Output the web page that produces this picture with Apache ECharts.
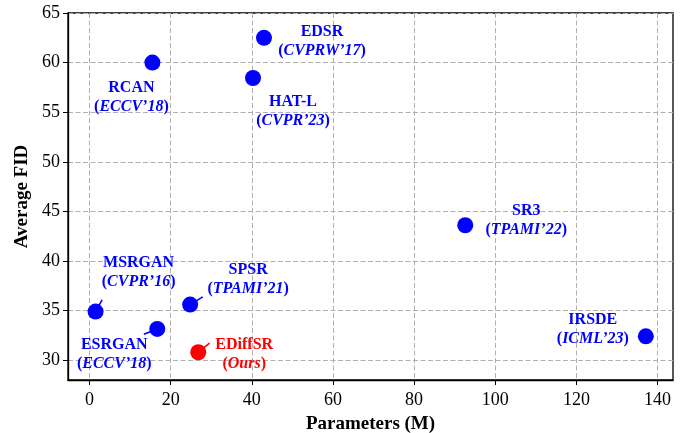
<!DOCTYPE html>
<html>
<head>
<meta charset="utf-8">
<script src="https://cdn.jsdelivr.net/npm/echarts@6/dist/echarts.min.js"></script>
<style>html,body{margin:0;padding:0;background:#fff}#c{width:699px;height:433px}</style>
</head>
<body>
<div id="c"></div>
<script>
const names  = ['RCAN', 'EDSR', 'HAT-L', 'MSRGAN', 'SPSR', 'ESRGAN', 'EDiffSR', 'SR3', 'IRSDE'];
const venues = ['ECCV\u201918', 'CVPRW\u201917', 'CVPR\u201923', 'CVPR\u201916', 'TPAMI\u201921', 'ECCV\u201918', 'Ours', 'TPAMI\u201922', 'ICML\u201923'];
const params = [15.5, 43.0, 40.3, 1.5, 24.8, 16.7, 26.8, 92.6, 137.1];
const fid    = [60.0, 62.5, 58.45, 34.9, 35.6, 33.15, 30.8, 43.6, 32.4];
const xTicks = [0, 20, 40, 60, 80, 100, 120, 140];
const yTicks = [30, 35, 40, 45, 50, 55, 60, 65];

// styling (label offsets and connector ends in pixels)
const labelOffset = {
  'RCAN': [-21, 35], 'EDSR': [58, 4], 'HAT-L': [40, 33], 'MSRGAN': [43, -39],
  'SPSR': [58, -25], 'ESRGAN': [-43, 25], 'EDiffSR': [46, 2], 'SR3': [61, -5], 'IRSDE': [-53, -7]
};
const connector = {
  'MSRGAN': [6.5, -11.7], 'ESRGAN': [-13.4, 5.3], 'SPSR': [12.6, -7.7], 'EDiffSR': [11.3, -9]
};
const ours = 'EDiffSR';
const FONT = "'Liberation Serif', 'Times New Roman', serif";

const colorOf = n => n === ours ? '#ff0000' : '#0000ff';

const scatterData = names.map((n, i) => ({
  name: n,
  value: [params[i], fid[i]],
  itemStyle: { color: colorOf(n), opacity: 1 },
  label: {
    show: true,
    position: 'inside',
    color: colorOf(n),
    formatter: '{n|' + n + '}\n{p|(}{i|' + venues[i] + '}{p|)}',
    rich: {
      n: { fontFamily: FONT, fontWeight: 'bold', fontSize: 16, lineHeight: 19, color: colorOf(n) },
      p: { fontFamily: FONT, fontWeight: 'bold', fontSize: 16, lineHeight: 19, color: colorOf(n) },
      i: { fontFamily: FONT, fontWeight: 'bold', fontStyle: 'italic', fontSize: 16, lineHeight: 19, color: colorOf(n) }
    }
  }
}));

const connData = names.map((n, i) => [params[i], fid[i]]);

const chart = echarts.init(document.getElementById('c'), null, { renderer: 'canvas' });
chart.setOption({
  animation: false,
  backgroundColor: '#fff',
  grid: { left: 68, top: 13, right: 26, bottom: 53, containLabel: false, outerBoundsMode: 'none',
          show: true, borderColor: '#000', borderWidth: 1.3, backgroundColor: 'transparent' },
  xAxis: {
    type: 'value', min: -5.3, max: 143.8,
    name: 'Parameters (M)', nameLocation: 'middle', nameGap: 35,
    nameTextStyle: { fontFamily: FONT, fontWeight: 'bold', fontSize: 19, color: '#000' },
    axisLine: { show: true, onZero: false, lineStyle: { color: '#000', width: 1.3 } },
    axisTick: { show: true, inside: false, length: 5, customValues: xTicks, lineStyle: { color: '#000', width: 1 } },
    axisLabel: { customValues: xTicks, fontFamily: FONT, fontSize: 18, color: '#000', margin: 11 },
    splitLine: { show: true, lineStyle: { color: '#b0b0b0', type: [5, 2.5], width: 1 } }
  },
  yAxis: {
    type: 'value', min: 28, max: 65,
    name: 'Average FID', nameLocation: 'middle', nameGap: 36,
    nameTextStyle: { fontFamily: FONT, fontWeight: 'bold', fontSize: 19, color: '#000' },
    axisLine: { show: true, onZero: false, lineStyle: { color: '#000', width: 1.3 } },
    axisTick: { show: true, inside: false, length: 5, customValues: yTicks, lineStyle: { color: '#000', width: 1 } },
    axisLabel: { customValues: yTicks, fontFamily: FONT, fontSize: 18, color: '#000', margin: 8 },
    splitLine: { show: true, lineStyle: { color: '#b0b0b0', type: [5, 2.5], width: 1 } }
  },
  series: [
    {
      type: 'custom',
      z: 1,
      data: connData,
      renderItem: function (p, api) {
        const n = names[p.dataIndex];
        const off = connector[n];
        if (!off) return null;
        const c = api.coord([api.value(0), api.value(1)]);
        return {
          type: 'line',
          shape: { x1: c[0], y1: c[1], x2: c[0] + off[0], y2: c[1] + off[1] },
          style: { stroke: colorOf(n), lineWidth: 1.6 }
        };
      }
    },
    {
      type: 'scatter',
      z: 3,
      symbol: 'circle',
      symbolSize: 16,
      data: scatterData,
      labelLayout: function (p) {
        const off = labelOffset[names[p.dataIndex]];
        return { dx: off[0], dy: off[1], hideOverlap: false };
      }
    }
  ]
});
</script>
</body>
</html>
